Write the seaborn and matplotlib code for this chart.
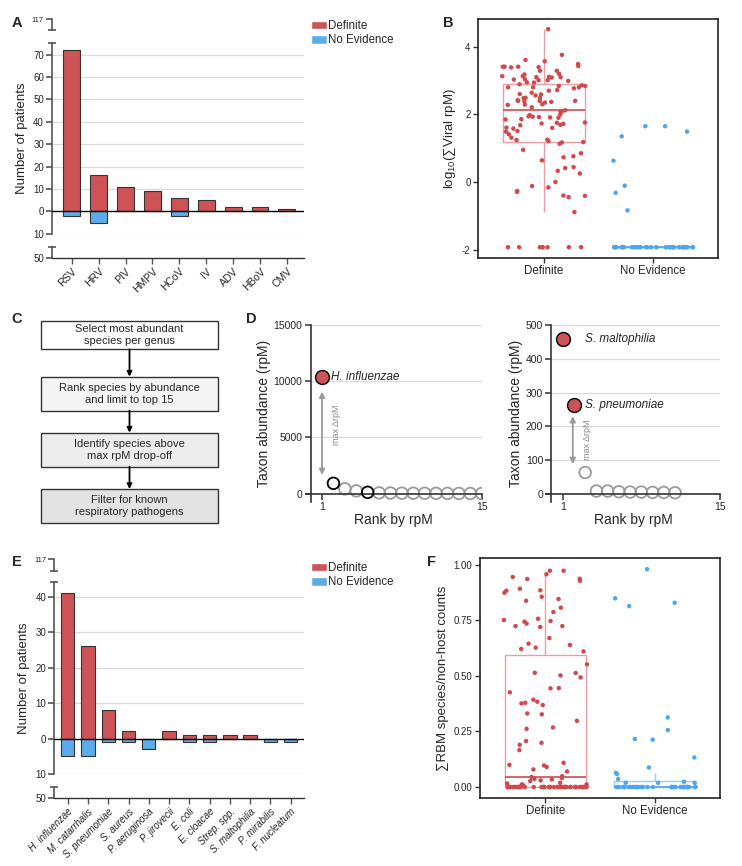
import numpy as np
import pandas as pd
import matplotlib
matplotlib.use("Agg")
import matplotlib.pyplot as plt
from matplotlib.patches import Patch, Rectangle
import seaborn as sns

# ---- values ----
viruses = ["RSV", "HRV", "PIV", "HMPV", "HCoV", "IV", "ADV", "HBoV", "CMV"]
virus_definite = [72, 16, 11, 9, 6, 5, 2, 2, 1]
virus_no_evidence = [2, 5, 0, 0, 2, 0, 0, 0, 0]

bacteria = ["H. influenzae", "M. catarrhalis", "S. pneumoniae", "S. aureus", "P. aeruginosa",
            "P. jirovecii", "E. coli", "E. cloacae", "Strep. spp.", "S. maltophilia",
            "P. mirabilis", "F. nucleatum"]
bact_definite = [41, 26, 8, 2, 0, 2, 1, 1, 1, 1, 0, 0]
bact_no_evidence = [5, 5, 1, 1, 3, 0, 1, 1, 0, 0, 1, 1]

# log10(sum viral rpM); -1.93 is the floor for samples with no virus
viral_definite = [4.52, 3.76, 3.61, 3.57, 3.49, 3.43, 3.39, 3.41, 3.41, 3.40, 3.41, 3.29, 3.29,
                  3.18, 3.20, 3.09, 3.13, 3.11, 3.13, 3.10, 3.04, 3.10, 3.01, 3.03, 3.01, 2.99,
                  2.95, 2.89, 2.94, 2.86, 2.84, 2.84, 2.80, 2.77, 2.80, 2.80, 2.72, 2.70, 2.64,
                  2.60, 2.56, 2.59, 2.48, 2.49, 2.49, 2.40, 2.37, 2.29, 2.38, 2.40, 2.40, 2.42,
                  2.35, 2.28, 2.30, 2.21, 2.09, 2.12, 2.09, 2.00, 1.93, 1.90, 1.98, 1.91, 1.94,
                  1.92, 1.85, 1.86, 1.76, 1.68, 1.69, 1.75, 1.72, 1.73, 1.60, 1.49, 1.61, 1.51,
                  1.58, 1.41, 1.31, 1.21, 1.24, 1.18, 1.13, 1.25, 1.17, 0.95, 0.85, 0.76, 0.73,
                  0.64, 0.44, 0.41, 0.33, 0.25, 0.0, -0.12, -0.16, -0.27, -0.29, -0.40, -0.45,
                  -0.41, -0.89] + [-1.93] * 8
viral_no_evidence = [-0.11, -0.32, 1.49, 1.65, 1.35, 1.65, 0.63, -0.84] + [-1.93] * 35

flow_steps = ["Select most abundant\nspecies per genus",
              "Rank species by abundance\nand limit to top 15",
              "Identify species above\nmax rpM drop-off",
              "Filter for known\nrespiratory pathogens"]
flow_fills = ["#FFFFFF", "#F5F5F5", "#EDEDED", "#E3E3E3"]

rank_left = list(range(1, 16))
rpm_left = [10400, 920, 430, 250, 120, 70, 55, 45, 40, 35, 30, 25, 20, 15, 10]
kind_left = ["called", "pathogen", "other", "other", "pathogen"] + ["other"] * 10
rank_right = list(range(1, 12))
rpm_right = [458, 264, 63, 8, 8, 6, 5, 5, 4, 4, 3]
kind_right = ["called", "called"] + ["other"] * 9

rbm_definite = [0.973, 0.973, 0.936, 0.957, 0.937, 0.928, 0.945, 0.892, 0.883, 0.885, 0.874,
                0.856, 0.846, 0.838, 0.807, 0.787, 0.751, 0.747, 0.744, 0.757, 0.735, 0.724,
                0.720, 0.724, 0.670, 0.639, 0.645, 0.621, 0.627, 0.610, 0.552, 0.502, 0.493,
                0.513, 0.514, 0.426, 0.445, 0.444, 0.393, 0.376, 0.384, 0.369, 0.379, 0.331,
                0.327, 0.298, 0.268, 0.262, 0.207, 0.199, 0.190, 0.166, 0.090, 0.100, 0.097,
                0.079, 0.109, 0.070, 0.049, 0.040, 0.037, 0.019, 0.045, 0.034, 0.027, 0.030,
                0.016, 0.009, 0.012, 0.012] + [0.0] * 48
rbm_no_evidence = [0.98, 0.849, 0.814, 0.829, 0.313, 0.213, 0.216, 0.256, 0.133, 0.088, 0.058,
                   0.064, 0.036, 0.019, 0.019, 0.024, 0.019] + [0.0] * 35

groups = ["Definite", "No Evidence"]

RED = "#CD5357"
BLUE = "#5AADEA"
DOT_RED = "#CF4A4F"
DOT_BLUE = "#4EA6EC"
BOX_RED = "#E9A0A2"
BOX_BLUE = "#98CBF2"
AX_GRAY = "#555555"
GRID = "#DADADA"

sns.set_style("white")
plt.rcParams["font.family"] = ["Liberation Sans", "DejaVu Sans"]
plt.rcParams["mathtext.fontset"] = "custom"
plt.rcParams["mathtext.rm"] = "Liberation Sans"
plt.rcParams["mathtext.it"] = "Liberation Sans:italic"
plt.rcParams["axes.unicode_minus"] = False

W, H = 742, 866
fig = plt.figure(figsize=(W / 100, H / 100), dpi=100)
fig.patch.set_facecolor("white")


def px(l, t, r, b):
    return [l / W, 1 - b / H, (r - l) / W, (b - t) / H]


def cap(ax, y):
    ax.plot([0], [y], marker="_", ms=6, mew=1.2, color=AX_GRAY,
            transform=ax.transAxes, clip_on=False)


def broken_bars(names, definite, no_ev, left, right, x0, step, top_seg, main_seg, low_seg,
                ymax, yticks, bar_w, label_kw, legend_top):
    n = len(names)
    xlim = (-(x0 - left) / step, (n - 1) + (right - (x0 + (n - 1) * step)) / step)
    df = pd.DataFrame({"name": names, "definite": definite,
                       "no_ev": [-v for v in no_ev]})

    ax = fig.add_axes(px(left, main_seg[0], right, main_seg[1]))
    ax.set_facecolor("none")
    for yt in yticks:
        if yt != 0:
            ax.axhline(yt, color=GRID, lw=0.9, zorder=0)
    sns.barplot(data=df, x="name", y="definite", order=names, color=RED, saturation=1,
                width=bar_w, edgecolor="#333333", linewidth=0.8, ax=ax)
    sns.barplot(data=df, x="name", y="no_ev", order=names, color=BLUE, saturation=1,
                width=bar_w, edgecolor="#333333", linewidth=0.8, ax=ax)
    ax.axhline(0, color="black", lw=1.0, zorder=3)
    ax.set_xlim(*xlim)
    ax.set_ylim(-10, ymax)
    ax.set_xticks([])
    ax.set_xlabel("")
    ax.set_yticks(yticks, [str(abs(v)) for v in yticks])
    ax.tick_params(axis="y", length=4, width=1.2, color=AX_GRAY, labelsize=7, pad=1.5,
                   left=True)
    for s in ["top", "right", "bottom"]:
        ax.spines[s].set_visible(False)
    ax.spines["left"].set_color(AX_GRAY)
    ax.spines["left"].set_linewidth(1.2)
    ax.set_ylabel("Number of patients", fontsize=9.5, labelpad=4)
    cap(ax, 1)

    lo = fig.add_axes(px(left, low_seg[0], right, low_seg[1]))
    lo.set_facecolor("none")
    lo.set_xlim(*xlim)
    lo.set_ylim(50, 46)
    lo.set_yticks([50], ["50"])
    lo.set_xticks(range(n), names, rotation=45, ha="right", va="top",
                  rotation_mode="anchor", **label_kw)
    lo.tick_params(axis="y", length=4, width=1.2, color=AX_GRAY, labelsize=7, pad=1.5,
                   left=True)
    lo.tick_params(axis="x", length=4, width=1.0, color=AX_GRAY, pad=2, bottom=True)
    for s in ["top", "right"]:
        lo.spines[s].set_visible(False)
    lo.spines["left"].set_color(AX_GRAY)
    lo.spines["left"].set_linewidth(1.2)
    lo.spines["bottom"].set_color("#333333")
    lo.spines["bottom"].set_linewidth(1.0)
    cap(lo, 1)

    tp = fig.add_axes(px(left, top_seg[0], left + 8, top_seg[1]))
    tp.set_facecolor("none")
    tp.set_ylim(110, 117)
    tp.set_yticks([117], ["117"])
    tp.set_xticks([])
    tp.tick_params(axis="y", length=4, width=1.2, color=AX_GRAY, labelsize=5.5, pad=1.5,
                   left=True)
    for s in ["top", "right", "bottom"]:
        tp.spines[s].set_visible(False)
    tp.spines["left"].set_color(AX_GRAY)
    tp.spines["left"].set_linewidth(1.2)
    cap(tp, 0)

    fig.legend(handles=[Patch(facecolor=RED, label="Definite"),
                        Patch(facecolor=BLUE, label="No Evidence")],
               loc="upper left", bbox_to_anchor=(311 / W, 1 - legend_top / H),
               frameon=False, fontsize=8.3, handlelength=1.35, handleheight=0.75,
               handletextpad=0.15, labelspacing=0.2, borderpad=0, borderaxespad=0)


def box_strip(box, definite, no_ev, ylim, yticks, ylabel):
    ax = fig.add_axes(px(*box))
    df = pd.DataFrame({"group": ["Definite"] * len(definite) + ["No Evidence"] * len(no_ev),
                       "value": definite + no_ev})
    for grp, line_c, med_c in [("Definite", BOX_RED, DOT_RED), ("No Evidence", BOX_BLUE, DOT_BLUE)]:
        sns.boxplot(data=df[df["group"] == grp], x="group", y="value", order=groups,
                    color=line_c, fill=False, width=0.75, linewidth=1, showfliers=False,
                    showcaps=False, medianprops=dict(color=med_c, linewidth=1.2), ax=ax)
    np.random.seed(3)
    sns.stripplot(data=df, x="group", y="value", order=groups, hue="group",
                  palette={"Definite": DOT_RED, "No Evidence": DOT_BLUE}, jitter=0.4,
                  size=3.2, linewidth=0, legend=False, zorder=4, ax=ax)
    ax.set_xlim(-0.6, 1.6)
    ax.set_ylim(*ylim)
    ax.set_yticks(yticks[0], yticks[1])
    ax.set_xlabel("")
    ax.set_ylabel(ylabel, fontsize=9.5, labelpad=3)
    ax.tick_params(axis="y", length=3.5, width=1, color="#333333", labelsize=7, pad=2,
                   left=True)
    ax.tick_params(axis="x", length=3.5, width=1, color="#333333", labelsize=8.3, pad=2,
                   bottom=True)
    for s in ax.spines.values():
        s.set_color("#222222")
        s.set_linewidth(1.2)
    return ax


def rank_panel(box, ranks, rpm, kinds, ymax, yticks, arrow, arrow_text, labels):
    ax = fig.add_axes(px(*box))
    ax.set_facecolor("none")
    df = pd.DataFrame({"rank": ranks, "rpm": rpm, "kind": kinds})
    for yt in yticks[1:]:
        ax.hlines(yt, 0, 15, color=GRID, lw=0.9, zorder=0)
    sns.scatterplot(data=df[df["kind"] == "other"], x="rank", y="rpm", s=70,
                    facecolor="none", edgecolor="#9B9B9B", linewidth=1.3, zorder=2, ax=ax)
    sns.scatterplot(data=df[df["kind"] == "pathogen"], x="rank", y="rpm", s=70,
                    facecolor="none", edgecolor="black", linewidth=1.3, zorder=3, ax=ax)
    sns.scatterplot(data=df[df["kind"] == "called"], x="rank", y="rpm", s=100,
                    color=RED, edgecolor="black", linewidth=1.0, zorder=4, ax=ax)
    ax.annotate("", xy=(arrow[0], arrow[2]), xytext=(arrow[0], arrow[1]),
                arrowprops=dict(arrowstyle="<|-|>", color="#9A9A9A", lw=1.3,
                                mutation_scale=8, shrinkA=0, shrinkB=0))
    ax.text(arrow_text[0], arrow_text[1], "max ΔrpM", rotation=90, color="#8A8A8A",
            fontsize=6.5, ha="center", va="center")
    for x, y, t in labels:
        ax.text(x, y, t, fontsize=8.5, fontstyle="italic", ha="left", va="center")
    ax.set_xlim(-0.45, 15)
    ax.set_ylim(-0.047 * ymax, ymax)
    ax.spines["left"].set_position(("data", 0))
    ax.spines["bottom"].set_position(("data", 0))
    for s in ["top", "right"]:
        ax.spines[s].set_visible(False)
    for s in ["left", "bottom"]:
        ax.spines[s].set_color("#333333")
        ax.spines[s].set_linewidth(1.2)
    ax.set_xticks([1, 15])
    ax.set_yticks(yticks)
    ax.tick_params(length=4, width=1.1, color="#333333", labelsize=7.5, pad=2,
                   left=True, bottom=True)
    ax.set_xlabel("Rank by rpM", fontsize=10, labelpad=1)
    ax.set_ylabel("Taxon abundance (rpM)", fontsize=10, labelpad=2)
    return ax


# ---- A ----
broken_bars(viruses, virus_definite, virus_no_evidence, 51.7, 304, 71.7, 26.9,
            (19, 30), (42.7, 233.7), (246.7, 258), 75.3, [-10, 0, 10, 20, 30, 40, 50, 60, 70],
            0.63, dict(fontsize=7.5), 20)

# ---- B ----
box_strip((478.3, 18.7, 718.3, 257.7), viral_definite, viral_no_evidence, (-2.24, 4.83),
          ([-2, 0, 2, 4], ["-2", "0", "2", "4"]), "log$_{10}$(∑Viral rpM)")

# ---- C ----
axc = fig.add_axes(px(0, 310, 245, 535))
axc.set_xlim(0, 245)
axc.set_ylim(535, 310)
axc.axis("off")
box_tops = [321, 376.7, 432.7, 489]
for i, (txt, fc) in enumerate(zip(flow_steps, flow_fills)):
    t = box_tops[i]
    axc.add_patch(Rectangle((40.7, t), 177.6, 34 if i else 28.3, facecolor=fc,
                            edgecolor="#333333", lw=1))
    axc.text(129.5, t + (17 if i else 14.2), txt, ha="center", va="center", fontsize=8,
             linespacing=1.25)
    if i < len(flow_steps) - 1:
        b = t + (34 if i else 28.3)
        axc.annotate("", xy=(129.5, box_tops[i + 1]), xytext=(129.5, b),
                     arrowprops=dict(arrowstyle="-|>", color="black", lw=1.3,
                                     mutation_scale=7, shrinkA=0, shrinkB=0))

# ---- D ----
rank_panel((305.5, 325, 481.7, 501.6), rank_left, rpm_left, kind_left, 15000,
           [0, 5000, 10000, 15000], (1, 9075, 1665), (2.3, 6100),
           [(1.75, 10400, "H. influenzae")])
rank_panel((546.4, 325, 720, 501.7), rank_right, rpm_right, kind_right, 500,
           [0, 100, 200, 300, 400, 500], (1.9, 230, 88), (3.2, 160),
           [(2.95, 458, "S. maltophilia"), (2.95, 264, "S. pneumoniae")])

# ---- E ----
broken_bars(bacteria, bact_definite, bact_no_evidence, 54, 304, 67.7, 20.27,
            (559, 570.7), (582.3, 774), (786.7, 798.3), 44.06, [-10, 0, 10, 20, 30, 40],
            0.66, dict(fontsize=7, fontstyle="italic"), 562)

# ---- F ----
box_strip((480, 558.3, 720, 797.7), rbm_definite, rbm_no_evidence, (-0.048, 1.029),
          ([0, 0.25, 0.5, 0.75, 1.0], ["0.00", "0.25", "0.50", "0.75", "1.00"]),
          "∑RBM species/non-host counts")

# panel letters
for letter, x, y in [("A", 11.7, 26.7), ("B", 443.3, 26.7), ("C", 11.7, 322.7),
                     ("D", 245.7, 323), ("E", 11.7, 565.7), ("F", 426.7, 566)]:
    fig.text(x / W, 1 - y / H, letter, fontsize=10.5, fontweight="bold", ha="left",
             va="baseline")

fig.savefig("out.png", dpi=100)
